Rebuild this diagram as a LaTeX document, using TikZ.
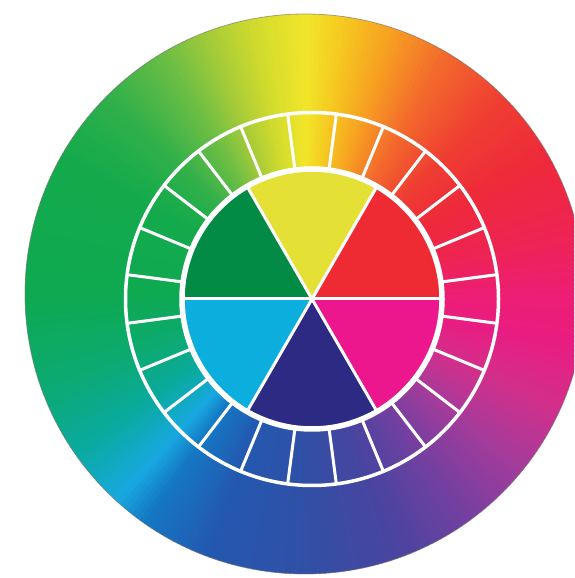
\documentclass[tikz,border=0pt]{standalone}
\usetikzlibrary{calc}
\definecolor{g000}{HTML}{EC1E74}
\definecolor{g015}{HTML}{EE2450}
\definecolor{g030}{HTML}{EE2A3A}
\definecolor{g045}{HTML}{EF3E32}
\definecolor{g060}{HTML}{F36A2C}
\definecolor{g072}{HTML}{F7A021}
\definecolor{g082}{HTML}{F5C820}
\definecolor{g090}{HTML}{F2E62A}
\definecolor{g100}{HTML}{D4DC2C}
\definecolor{g110}{HTML}{A8CC38}
\definecolor{g120}{HTML}{6EBE44}
\definecolor{g135}{HTML}{30B04A}
\definecolor{g150}{HTML}{14AA4C}
\definecolor{g180}{HTML}{0EA950}
\definecolor{g200}{HTML}{0CAA72}
\definecolor{g215}{HTML}{0AAAA0}
\definecolor{g228}{HTML}{18A8E0}
\definecolor{g235}{HTML}{1478C4}
\definecolor{g250}{HTML}{2458B0}
\definecolor{g270}{HTML}{3050A6}
\definecolor{g290}{HTML}{4A44A0}
\definecolor{g305}{HTML}{7040A0}
\definecolor{g320}{HTML}{A03C9C}
\definecolor{g335}{HTML}{D0308C}
\definecolor{g350}{HTML}{EA1C80}
\definecolor{cyellow}{HTML}{E5E036}
\definecolor{cred}{HTML}{EE2B33}
\definecolor{cmagenta}{HTML}{EC178C}
\definecolor{cindigo}{HTML}{2D2A83}
\definecolor{ccyan}{HTML}{0BAEDC}
\definecolor{cgreen}{HTML}{028B45}
\tikzset{
  ringline/.style={white, line width=3.5pt},
  spokeline/.style={white, line width=3pt},
  innerborder/.style={white, line width=5.5pt},
  sectorline/.style={white, line width=3pt},
}
\begin{document}
\begin{tikzpicture}[x=1pt,y=1pt]
\useasboundingbox (0,0) rectangle (574,578);
\clip (0,0) rectangle (574,578);
\coordinate (O) at (305,284);
\coordinate (C) at (312,279);
% outer hue wheel
\begin{scope}
\clip (O) circle (280);
\foreach \a/\b/\ca/\cb in {0/15/g000/g015,15/30/g015/g030,30/45/g030/g045,45/60/g045/g060,60/72/g060/g072,72/82/g072/g082,82/90/g082/g090,90/100/g090/g100,100/110/g100/g110,110/120/g110/g120,120/135/g120/g135,135/150/g135/g150,150/180/g150/g180,180/200/g180/g200,200/215/g200/g215,215/228/g215/g228,228/235/g228/g235,235/250/g235/g250,250/270/g250/g270,270/290/g270/g290,290/305/g290/g305,305/320/g305/g320,320/335/g320/g335,335/350/g335/g350,350/360/g350/g000}{
  \pgfmathtruncatemacro{\bm}{\b-1}
  \foreach \t in {\a,...,\bm}{
    \pgfmathsetmacro{\p}{100*(\t+0.5-\a)/(\b-\a)}
    \fill[\cb!\p!\ca] (O) -- ++(\t-0.2:300) arc[start angle=\t-0.2, end angle=\t+1.25, radius=300] -- cycle;
  }
}
\end{scope}
\draw[black!55, line width=0.8pt, opacity=0.6] (O) circle (280);
% ring of 24 cells
\draw[ringline] (C) circle (186.5);
\foreach \k in {0,...,23}{
  \pgfmathsetmacro{\ang}{7.5+15*\k}
  \draw[spokeline] ([shift={(C)}]\ang:130) -- ([shift={(C)}]\ang:186.5);
}
% six inner sectors
\foreach \s/\col in {0/cred,60/cyellow,120/cgreen,180/ccyan,240/cindigo,300/cmagenta}{
  \fill[\col] (C) -- ([shift={(C)}]\s:130) arc[start angle=\s, end angle=\s+60, radius=130] -- cycle;
}
\draw[sectorline] ([shift={(C)}]0:130) -- ([shift={(C)}]180:130);
\draw[sectorline] ([shift={(C)}]60:130) -- ([shift={(C)}]240:130);
\draw[sectorline] ([shift={(C)}]120:130) -- ([shift={(C)}]300:130);
\draw[innerborder] (C) circle (130);
\end{tikzpicture}
\end{document}
